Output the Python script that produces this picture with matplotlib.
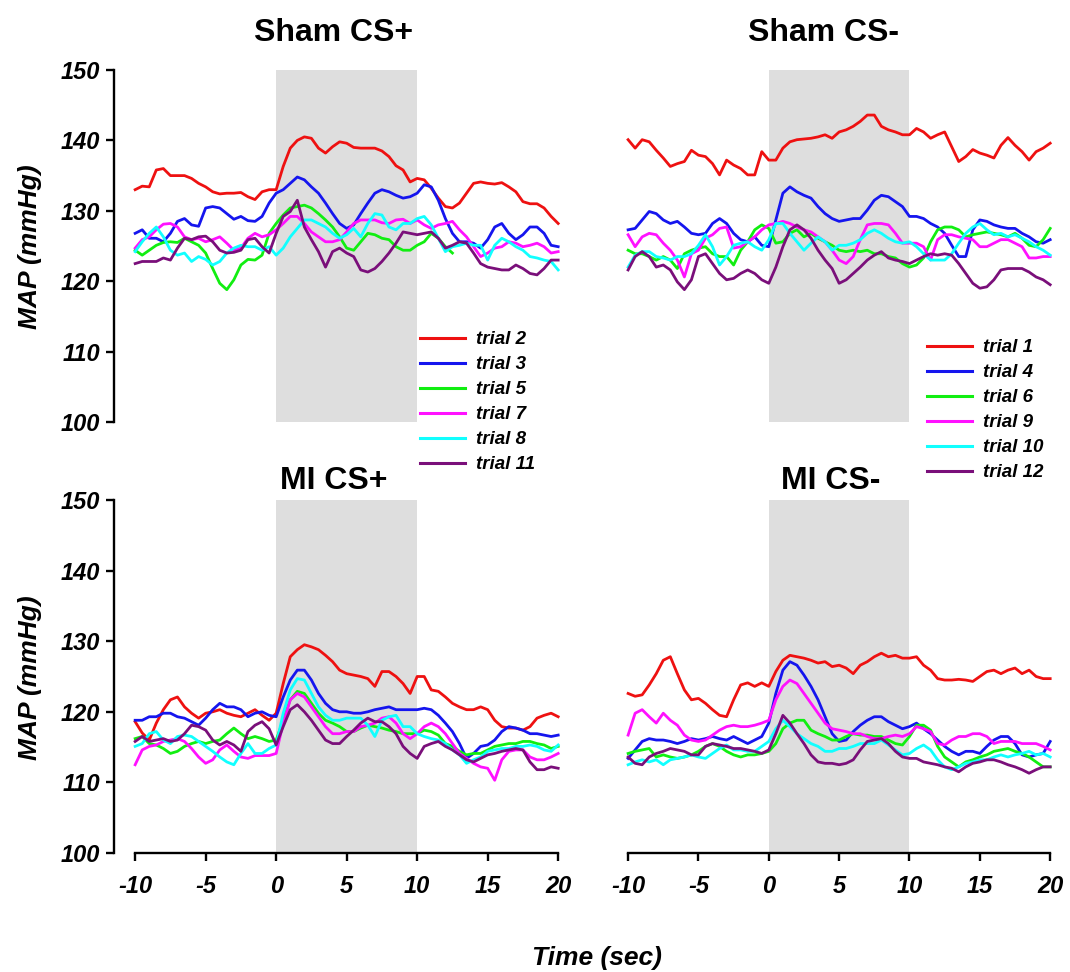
import numpy as np
import matplotlib
matplotlib.use("Agg")
import matplotlib.pyplot as plt
from matplotlib.lines import Line2D

nan = np.nan
TIME = np.arange(-10, 20.01, 0.5)

COLORS = ["#ee1111", "#1515ee", "#11ee11", "#ff11ff", "#11ffff", "#7a0f7a"]

# ---------------- Sham CS+ ----------------
SHAM_CSP_LABELS = ["trial 2", "trial 3", "trial 5", "trial 7", "trial 8", "trial 11"]
sham_csp_t2 = [133.0,133.5,133.4,135.8,136.0,135.0,135.0,135.0,134.6,133.9,
               133.4,132.7,132.4,132.5,132.5,132.6,132.0,131.6,132.7,133.0,
               133.0,136.3,138.9,140.0,140.5,140.3,138.9,138.2,139.1,139.8,
               139.6,139.0,138.9,138.9,138.9,138.5,137.7,136.4,135.8,134.1,
               134.6,134.4,133.2,131.8,130.6,130.4,131.1,132.5,133.9,134.1,
               133.9,133.8,134.0,133.4,132.7,131.3,131.0,131.0,130.4,129.2,
               128.2]
sham_csp_t3 = [126.8,127.3,126.1,126.1,125.6,126.8,128.5,128.9,128.0,127.8,
               130.4,130.6,130.4,129.6,128.8,129.2,128.6,128.5,129.2,131.1,
               132.5,133.0,133.9,134.8,134.4,133.4,132.5,131.1,129.6,128.2,
               127.5,128.0,129.6,131.1,132.5,133.0,132.7,132.2,131.8,132.0,
               132.5,133.7,133.4,131.5,128.9,126.8,125.6,125.6,125.4,124.7,
               125.9,127.7,128.2,126.8,125.9,126.6,127.7,127.7,126.8,125.1,
               124.9]
sham_csp_t5 = [124.4,123.7,124.4,125.1,125.5,125.6,125.5,126.1,125.6,125.1,
               124.0,121.8,119.7,118.8,120.2,122.3,123.1,123.0,123.7,126.8,
               128.2,129.4,130.4,130.6,130.8,130.4,129.6,128.7,127.7,126.3,
               124.7,124.4,125.6,126.8,126.6,126.1,125.9,124.9,124.4,124.4,
               125.1,125.6,126.8,126.1,124.9,124.0,nan,nan,nan,nan,
               nan,nan,nan,nan,nan,nan,nan,nan,nan,nan,
               nan]
sham_csp_t7 = [124.7,125.9,126.3,127.3,128.1,128.2,127.7,126.3,125.9,126.1,
               125.6,125.9,126.3,125.4,124.4,124.7,126.1,126.8,126.3,126.6,
               127.3,128.2,129.2,129.2,128.2,127.0,126.3,125.6,125.6,125.9,
               127.0,128.2,128.7,128.7,128.7,128.3,128.2,128.7,128.8,128.2,
               128.7,128.0,127.5,128.0,128.2,128.5,127.3,126.3,124.9,123.5,
               124.0,124.7,124.9,125.6,125.4,124.9,125.1,125.4,124.9,124.0,
               124.2]
sham_csp_t8 = [124.2,125.6,126.8,127.7,126.3,124.4,123.7,124.0,122.8,123.5,
               123.1,122.3,122.8,124.0,124.7,125.1,124.9,124.9,124.4,124.9,
               123.7,124.7,126.3,127.5,128.7,128.7,128.2,127.7,126.8,126.1,
               126.6,127.5,126.3,128.2,129.6,129.4,127.7,127.3,128.2,128.2,
               128.9,129.2,128.0,126.1,124.2,124.9,125.1,125.4,125.1,125.1,
               123.0,125.1,126.1,125.6,124.9,124.4,123.5,123.3,123.0,122.8,
               121.6]
sham_csp_t11 = [122.5,122.8,122.8,122.8,123.3,123.0,124.7,126.1,125.9,126.3,
                126.4,125.6,124.4,124.0,124.1,124.4,125.9,126.1,124.9,124.0,
                126.8,129.2,129.9,131.5,127.7,125.9,124.2,122.0,124.2,124.7,
                124.0,123.5,121.6,121.3,121.8,122.8,124.0,125.4,127.0,126.8,
                126.6,126.8,127.0,126.1,124.7,125.1,125.6,125.4,124.0,122.5,
                122.0,121.8,121.6,121.6,122.3,121.8,121.1,120.9,121.8,123.0,
                123.0]

# ---------------- Sham CS- ----------------
SHAM_CSM_LABELS = ["trial 1", "trial 4", "trial 6", "trial 9", "trial 10", "trial 12"]
sham_csm_t1 = [140.1,138.9,140.1,139.8,138.6,137.5,136.3,136.7,137.0,138.6,
               137.9,137.7,136.7,135.1,137.2,136.5,136.0,135.1,135.1,138.4,
               137.2,137.2,138.9,139.8,140.1,140.2,140.3,140.5,140.8,140.3,
               141.2,141.5,142.0,142.7,143.6,143.6,142.0,141.5,141.2,140.8,
               140.8,141.7,141.2,140.3,140.8,141.2,139.1,137.0,137.7,138.7,
               138.2,137.9,137.5,139.3,140.4,139.3,138.4,137.2,138.4,138.9,
               139.6]
sham_csm_t4 = [127.3,127.5,128.7,129.9,129.6,128.7,128.2,128.5,127.7,126.8,
               126.6,126.8,128.2,128.9,128.2,126.8,125.9,125.6,126.3,125.1,
               124.9,128.7,132.5,133.4,132.7,132.2,131.8,130.6,129.6,128.9,
               128.5,128.7,128.9,128.9,130.1,131.5,132.2,132.0,131.3,130.6,
               129.2,129.2,128.9,128.2,127.7,126.8,125.1,123.5,123.5,127.3,
               128.7,128.5,128.0,127.7,127.5,127.5,126.8,126.3,125.6,125.4,
               125.9]
sham_csm_t6 = [124.4,123.9,123.9,123.5,123.0,123.5,123.0,121.8,123.9,124.4,
               124.7,124.9,123.9,123.5,123.5,122.3,124.4,125.6,127.3,128.0,
               127.5,125.4,125.6,126.8,127.3,126.3,126.8,126.1,125.6,125.1,
               124.4,124.2,124.4,124.2,124.4,123.9,123.9,123.5,123.3,122.5,
               122.0,122.3,123.3,125.6,127.3,127.7,127.7,127.3,126.3,126.6,
               126.8,127.0,126.8,126.6,126.3,126.8,126.1,125.1,124.9,125.9,
               127.5]
sham_csm_t9 = [126.6,124.9,126.3,126.8,126.6,125.4,124.4,123.0,120.6,123.9,
               124.4,126.1,126.6,127.5,127.7,124.7,124.9,125.6,126.3,127.3,
               128.0,128.2,128.5,128.2,127.7,127.3,127.0,126.3,125.6,124.4,
               123.0,122.5,123.5,125.9,128.0,128.2,128.2,128.0,126.8,125.4,
               125.4,125.4,124.9,123.0,125.9,126.6,126.6,126.3,126.1,125.9,
               124.9,124.9,125.4,125.9,125.9,125.4,124.9,123.3,123.3,123.5,
               123.5]
sham_csm_t10 = [122.0,123.7,124.2,124.2,123.5,123.3,123.0,123.5,123.5,123.9,
                125.1,126.6,124.9,122.3,123.5,125.1,125.4,125.6,124.9,124.4,
                125.9,128.2,128.2,126.8,125.6,124.4,125.4,126.3,125.6,124.4,
                125.1,125.1,125.4,125.9,126.8,127.3,126.8,126.1,125.6,125.4,
                125.6,124.9,123.9,123.0,123.0,123.0,123.9,125.4,126.8,127.7,
                128.2,127.3,126.6,126.8,126.3,126.6,126.1,125.6,124.9,124.4,
                123.7]
sham_csm_t12 = [121.6,123.5,124.2,123.5,122.0,122.3,121.6,119.9,118.8,120.2,
                123.5,123.9,122.5,121.1,120.2,120.4,121.1,121.6,121.1,120.2,
                119.7,122.0,124.9,127.3,128.0,127.3,126.1,124.4,123.0,121.8,
                119.7,120.2,121.1,122.0,123.0,123.7,124.2,123.3,123.0,122.8,
                122.5,123.0,123.5,123.9,123.7,123.9,123.7,122.5,121.1,119.7,
                119.0,119.2,120.2,121.6,121.8,121.8,121.8,121.3,120.6,120.2,
                119.5]

# ---------------- MI CS+ ----------------
mi_csp_red = [118.6,117.0,116.0,118.4,120.3,121.7,122.1,120.7,119.8,119.1,
              119.8,120.0,120.3,119.8,119.5,119.3,119.8,120.3,119.5,118.8,
              119.8,124.0,127.8,128.8,129.5,129.2,128.8,128.0,127.1,125.9,
              125.4,125.2,125.0,124.7,123.6,125.7,125.7,125.0,124.0,122.6,
              125.0,125.0,123.1,122.9,122.1,121.2,120.7,120.3,120.3,120.7,
              120.3,118.8,117.9,117.7,117.7,117.4,117.9,119.1,119.5,119.8,
              119.3]
mi_csp_blue = [118.8,118.8,119.3,119.3,119.8,119.8,119.3,119.1,118.6,118.1,
               119.1,120.3,121.2,120.7,120.7,120.3,119.3,119.8,120.0,119.5,
               119.3,122.1,124.5,125.9,125.9,124.5,122.6,121.2,120.3,120.0,
               120.0,119.8,119.8,120.0,120.3,120.5,120.7,120.3,120.3,120.3,
               120.3,120.5,120.3,119.5,118.4,117.2,115.5,113.4,114.1,115.1,
               115.3,116.0,117.2,117.9,117.7,117.4,116.9,116.9,116.7,116.5,
               116.7]
mi_csp_green = [116.2,116.5,115.5,115.3,114.8,114.1,114.4,115.1,115.5,115.8,
                115.5,115.8,116.0,116.9,117.7,116.9,116.2,116.5,116.2,115.8,
                116.0,118.8,121.7,122.9,122.6,121.2,119.8,118.8,118.4,117.9,
                117.2,117.2,117.7,118.1,117.9,117.7,117.4,117.2,116.9,116.9,
                116.9,117.4,117.2,116.7,115.5,115.1,114.4,113.9,114.1,114.1,
                114.6,115.1,115.3,115.5,115.5,115.8,115.8,115.5,115.3,114.8,
                115.1]
mi_csp_magenta = [112.5,114.6,115.1,115.3,115.8,116.0,116.2,115.8,114.8,113.6,
                  112.7,113.2,114.6,115.3,114.4,113.6,113.4,113.8,113.8,113.8,
                  114.1,118.4,121.7,122.6,122.1,120.7,119.3,117.9,116.9,116.9,
                  117.2,117.2,117.9,118.1,118.4,119.1,119.3,118.4,116.9,116.2,
                  116.9,117.9,118.4,117.9,116.9,115.5,114.1,113.4,112.7,112.2,
                  112.0,110.3,113.2,114.4,114.6,114.6,113.6,113.2,113.2,113.6,
                  114.1]
mi_csp_cyan = [115.1,115.5,116.9,117.2,116.0,115.5,116.5,116.7,116.5,115.8,
               115.1,114.4,113.6,112.9,112.5,114.1,115.5,114.1,114.1,114.8,
               115.3,119.8,123.1,124.7,124.5,122.6,120.7,119.5,118.8,118.8,
               119.1,119.1,119.1,118.1,116.5,118.8,119.3,119.5,117.9,117.9,
               116.9,116.5,116.2,116.0,115.5,114.6,113.9,112.7,113.2,113.6,
               114.4,114.6,114.8,114.8,115.1,115.1,115.3,115.1,114.6,114.4,
               115.3]
mi_csp_purple = [115.8,116.5,115.8,116.0,116.2,115.8,116.0,116.9,118.1,117.9,
                 117.4,116.0,115.3,115.8,115.3,114.4,117.2,118.1,118.6,117.6,
                 115.3,117.9,120.3,121.0,120.0,118.8,117.4,116.0,115.5,115.5,
                 116.5,117.4,118.4,119.1,118.6,118.6,117.9,116.9,115.1,114.1,
                 113.4,115.1,115.5,115.8,115.1,114.6,113.9,113.2,112.9,113.4,
                 113.9,114.1,114.4,114.6,114.8,114.6,112.9,111.8,111.8,112.2,
                 112.0]

# ---------------- MI CS- ----------------
mi_csm_red = [122.6,122.2,122.4,123.8,125.4,127.3,127.8,125.4,123.1,121.7,
              121.9,121.2,120.3,119.5,119.3,121.7,123.8,124.1,123.6,124.1,
              123.6,125.7,127.3,128.0,127.8,127.6,127.3,126.9,127.1,126.4,
              126.6,126.2,125.4,126.6,127.1,127.8,128.3,127.8,128.0,127.6,
              127.6,127.8,126.6,125.9,124.7,124.5,124.5,124.6,124.5,124.3,
              125.0,125.7,125.9,125.4,125.9,126.2,125.4,125.9,125.0,124.7,
              124.7]
mi_csm_blue = [113.4,114.6,115.8,116.2,116.0,116.0,115.8,115.5,115.8,116.2,
               116.0,116.2,116.5,116.2,116.0,116.5,116.0,115.5,116.0,116.5,
               118.4,122.6,125.9,127.1,126.6,125.2,123.6,121.7,119.3,116.9,
               115.8,116.0,117.2,118.1,118.8,119.3,119.3,118.6,118.1,117.6,
               117.9,118.4,117.6,116.9,116.0,115.1,114.4,113.9,114.4,114.4,
               114.1,115.1,116.0,116.5,116.5,115.5,113.9,113.6,113.9,114.1,
               115.8]
mi_csm_green = [114.1,114.4,114.6,114.8,113.6,113.9,113.6,113.4,113.6,113.9,
                114.4,115.1,115.5,115.1,114.4,113.9,113.6,113.9,113.9,114.1,
                114.4,115.5,117.6,118.4,118.8,118.8,117.4,116.9,116.5,116.0,
                116.0,116.5,116.9,116.7,116.7,116.5,116.5,116.0,115.5,115.3,
                116.5,118.1,118.1,117.4,115.1,113.6,112.9,112.2,112.9,113.2,
                113.6,113.9,114.4,114.6,114.8,114.4,114.1,113.6,112.9,112.2,
                112.2]
mi_csm_magenta = [116.7,119.8,120.3,119.3,118.4,119.8,118.8,118.1,116.7,116.0,
                  115.8,116.0,116.7,117.4,117.9,118.1,117.9,117.9,118.1,118.4,
                  118.8,121.7,123.6,124.5,124.0,122.6,121.2,119.8,118.4,117.6,
                  117.4,117.2,116.9,116.9,116.5,116.2,116.2,116.5,116.7,116.5,
                  116.9,117.9,117.6,117.2,115.5,115.3,116.0,116.5,116.5,116.9,
                  116.9,116.5,115.5,115.8,115.8,115.8,115.5,115.5,115.5,115.1,
                  114.6]
mi_csm_cyan = [112.5,112.9,113.2,112.9,113.2,112.5,113.2,113.4,113.6,113.9,
               113.6,113.4,114.1,114.8,115.3,114.6,114.6,114.4,114.4,115.1,
               115.8,117.6,118.8,117.9,116.9,116.2,115.5,115.1,114.4,114.4,
               114.8,114.8,115.1,115.5,115.5,115.5,116.0,115.3,114.6,113.9,
               114.1,114.8,115.3,114.6,113.2,112.2,111.8,112.2,112.7,112.9,
               113.2,113.2,113.6,113.9,113.6,113.9,114.1,114.4,113.9,114.1,
               113.6]
mi_csm_purple = [113.6,112.7,112.5,113.6,114.1,114.4,114.8,114.6,114.4,113.9,
                 113.9,115.1,115.5,115.3,115.1,114.8,114.8,114.6,114.4,114.1,
                 114.6,116.9,119.5,118.4,116.9,115.5,113.9,112.9,112.7,112.7,
                 112.5,112.7,113.2,114.6,115.8,116.0,116.2,115.5,114.4,113.6,
                 113.4,113.4,112.9,112.7,112.5,112.2,112.0,111.5,112.2,112.7,
                 112.9,113.2,113.2,112.9,112.5,112.2,111.8,111.3,111.8,112.2,
                 112.2]

Y_TICKS = [100, 110, 120, 130, 140, 150]
X_TICKS = [-10, -5, 0, 5, 10, 15, 20]
CS_START, CS_END = 0, 10

FONT = "Liberation Sans"
plt.rcParams["font.family"] = [FONT, "DejaVu Sans"]

W, H = 1070, 972
fig = plt.figure(figsize=(W / 100, H / 100), dpi=100)


def add_ax(l, t, r, b):
    return fig.add_axes([l / W, 1 - b / H, (r - l) / W, (b - t) / H])


ax_tl = add_ax(114, 70, 561, 422)
ax_tr = add_ax(607, 70, 1053, 422)
ax_bl = add_ax(114, 500, 561, 853)
ax_br = add_ax(607, 500, 1053, 853)

panels = [
    (ax_tl, [sham_csp_t2, sham_csp_t3, sham_csp_t5, sham_csp_t7, sham_csp_t8, sham_csp_t11]),
    (ax_tr, [sham_csm_t1, sham_csm_t4, sham_csm_t6, sham_csm_t9, sham_csm_t10, sham_csm_t12]),
    (ax_bl, [mi_csp_red, mi_csp_blue, mi_csp_green, mi_csp_magenta, mi_csp_cyan, mi_csp_purple]),
    (ax_br, [mi_csm_red, mi_csm_blue, mi_csm_green, mi_csm_magenta, mi_csm_cyan, mi_csm_purple]),
]

LW_SP = 1.7
tickfont = dict(fontsize=17, fontweight="bold", fontstyle="italic", family=FONT)

for ax, series in panels:
    ax.axvspan(CS_START, CS_END, ymin=0, ymax=1, color="#dedede", lw=0, zorder=0)
    for vals, c in zip(series, COLORS):
        ax.plot(TIME, vals, color=c, lw=2.0, zorder=2)
    ax.set_xlim(-11.5, 20.2)
    ax.set_ylim(100, 150)
    for s in ax.spines.values():
        s.set_visible(False)
        s.set_linewidth(LW_SP)
    ax.tick_params(width=LW_SP, length=6)
    ax.set_xticks([])
    ax.set_yticks([])
    ax.patch.set_alpha(0)

for ax in (ax_tl, ax_bl):
    ax.spines["left"].set_visible(True)
    ax.spines["left"].set_bounds(100, 150)
    ax.set_yticks(Y_TICKS, [str(v) for v in Y_TICKS], **tickfont)
    ax.tick_params(axis="y", pad=4)

for ax in (ax_bl, ax_br):
    ax.spines["bottom"].set_visible(True)
    ax.spines["bottom"].set_bounds(-10, 20)
    ax.set_xticks(X_TICKS, [str(v) for v in X_TICKS], **tickfont)
    ax.tick_params(axis="x", pad=10)

# titles
title_kw = dict(fontsize=23, fontweight="bold", ha="center", va="center", family=FONT)
fig.text(333 / W, 1 - 33 / H, "Sham CS+", **title_kw)
fig.text(823 / W, 1 - 33 / H, "Sham CS-", **title_kw)
fig.text(334 / W, 1 - 481 / H, "MI CS+", **title_kw)
fig.text(831 / W, 1 - 481 / H, "MI CS-", **title_kw)

lab_kw = dict(fontsize=19, fontweight="bold", fontstyle="italic", family=FONT)
fig.text(30 / W, 1 - 247 / H, "MAP (mmHg)", rotation=90, ha="center", va="center", **lab_kw)
fig.text(30 / W, 1 - 678 / H, "MAP (mmHg)", rotation=90, ha="center", va="center", **lab_kw)
fig.text(597 / W, 1 - 958 / H, "Time (sec)", ha="center", va="center", **lab_kw)

# legends
leg_font = dict(size=13.5, weight="bold", style="italic", family=FONT)


def make_legend(labels, x, y):
    handles = [Line2D([0], [0], color=c, lw=2.2) for c in COLORS]
    fig.legend(handles, labels, loc="upper left", bbox_to_anchor=(x / W, 1 - y / H),
               frameon=False, prop=leg_font, handlelength=2.4, handletextpad=0.6,
               labelspacing=0.42, borderpad=0, borderaxespad=0)


make_legend(SHAM_CSP_LABELS, 420, 331)
make_legend(SHAM_CSM_LABELS, 927, 339)

fig.savefig("out.png", dpi=100)
